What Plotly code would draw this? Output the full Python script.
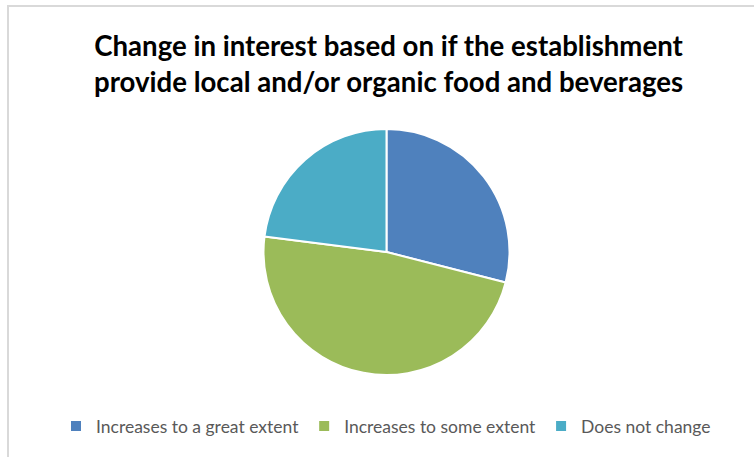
import plotly.graph_objects as go

# Survey responses (share of respondents, %)
categories = ["Increases to a great extent", "Increases to some extent", "Does not change"]
values = [29, 48, 23]
colors = ["#4f81bd", "#9bbb59", "#4bacc6"]

title_text = ("Change in interest based on if the establishment<br>"
              "provide local and/or organic food and beverages")

W, H = 754, 457

fig = go.Figure(
    go.Pie(
        labels=categories,
        values=values,
        sort=False,
        direction="clockwise",
        rotation=0,
        marker=dict(colors=colors, line=dict(color="white", width=2)),
        textinfo="none",
        domain=dict(x=[263.5 / W, 509.5 / W], y=[1 - 375 / H, 1 - 129 / H]),
    )
)

fig.update_layout(
    width=W,
    height=H,
    margin=dict(l=0, r=0, t=0, b=0),
    paper_bgcolor="white",
    plot_bgcolor="white",
    font=dict(family="Lato, 'Open Sans', sans-serif", color="#595959"),
    showlegend=True,
    legend=dict(
        orientation="h",
        x=386 / W,
        xanchor="center",
        y=1 - 426 / H,
        yanchor="middle",
        font=dict(size=17.5, color="#595959"),
        itemwidth=30,
        traceorder="normal",
    ),
    annotations=[
        dict(
            text=f"<b>{title_text}</b>",
            x=389 / W,
            y=1 - 63 / H,
            xref="paper",
            yref="paper",
            xanchor="center",
            yanchor="middle",
            showarrow=False,
            font=dict(size=27.6, color="#000000", family="Lato, 'Open Sans', sans-serif"),
        )
    ],
    shapes=[
        dict(
            type="rect",
            xref="paper",
            yref="paper",
            x0=8 / W,
            x1=1.05,
            y0=-0.05,
            y1=1 - 6 / H,
            line=dict(color="#d9d9d9", width=2),
            fillcolor="rgba(0,0,0,0)",
            layer="below",
        )
    ],
)

fig.write_html("out.html")
